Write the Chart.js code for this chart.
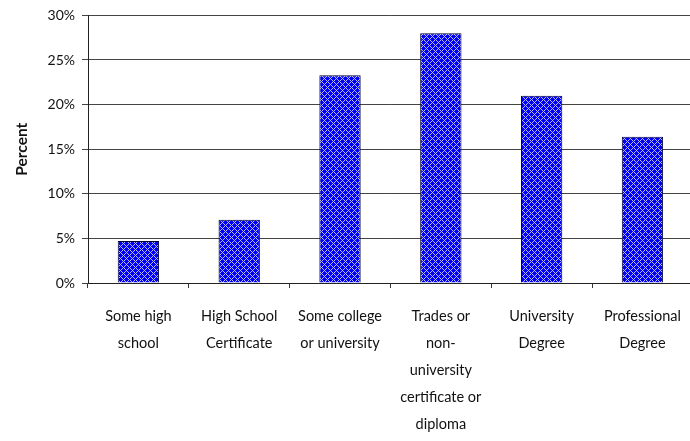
<!doctype html>
<html lang="en">

<head>
    <meta charset="utf-8">
    <title>Education level</title>
    <script src="https://cdn.jsdelivr.net/npm/chart.js@4.4.0/dist/chart.umd.min.js"></script>
    <style>
        html, body { margin: 0; padding: 0; background: #fff; overflow: hidden; }
        #wrap { position: relative; width: 696px; height: 441px; }
    </style>
</head>

<body>
    <div id="wrap">
        <canvas id="myChart"></canvas>
    </div>
</body>
<script>
    // categories (each one split into the lines shown under the axis)
    let levels = [
        ["Some high", "school"],
        ["High School", "Certificate"],
        ["Some college", "or university"],
        ["Trades or", "non-", "university", "certificate or", "diploma"],
        ["University", "Degree"],
        ["Professional", "Degree"]
    ];
    // percent of respondents
    let percents = [4.7, 7.1, 23.3, 28.0, 21.0, 16.4];
    let yTicks = [0, 5, 10, 15, 20, 25, 30];

    // blue fill with a light diagonal lattice
    let makePattern = () => {
        let c = document.createElement("canvas");
        c.width = 6;
        c.height = 6;
        let g = c.getContext("2d");
        g.fillStyle = "#0000f4";
        g.fillRect(0, 0, 6, 6);
        g.fillStyle = "#b8b8ff";
        for (let x = 0; x < 6; x++) {
            for (let y = 0; y < 6; y++) {
                if ((x + y) % 6 == 0 || (x - y + 6) % 6 == 0) g.fillRect(x, y, 1, 1);
            }
        }
        return g.createPattern(c, "repeat");
    };

    Chart.defaults.font.family = "Lato, 'Open Sans', sans-serif";
    Chart.defaults.color = "#111";

    let chart1 = new Chart(document.getElementById("myChart"), {
        type: 'bar',
        data: {
            labels: levels,
            datasets: [{
                data: percents,
                backgroundColor: makePattern(),
                borderColor: '#000033',
                borderWidth: 1,
                categoryPercentage: 1,
                barPercentage: 0.41
            }]
        },
        options: {
            responsive: true,
            maintainAspectRatio: false,
            animation: false,
            layout: { padding: { top: 14, left: 0, right: 0, bottom: 0 } },
            plugins: { legend: { display: false }, tooltip: { enabled: false } },
            scales: {
                x: {
                    grid: {
                        drawOnChartArea: false,
                        drawTicks: true,
                        tickLength: 5,
                        color: '#333',
                        offset: true
                    },
                    border: { color: '#222', width: 1 },
                    ticks: {
                        maxRotation: 0,
                        autoSkip: false,
                        padding: 15,
                        font: { size: 14.5, lineHeight: 1.86 },
                        color: '#111'
                    },
                    afterFit: (s) => { s.height = 158; }
                },
                y: {
                    min: 0,
                    max: 30,
                    afterBuildTicks: (s) => { s.ticks = yTicks.map(v => ({ value: v })); },
                    grid: { color: '#444', tickLength: 6, lineWidth: 1 },
                    border: { color: '#222', width: 1 },
                    ticks: {
                        padding: 7,
                        font: { size: 14 },
                        color: '#111',
                        callback: (v) => v + '%'
                    },
                    title: {
                        display: true,
                        text: 'Percent',
                        font: { size: 15.5, weight: 'bold' },
                        color: '#111',
                        padding: { top: 13, bottom: 0 }
                    },
                    afterFit: (s) => { s.width = 88; }
                }
            }
        }
    });
</script>

</html>
